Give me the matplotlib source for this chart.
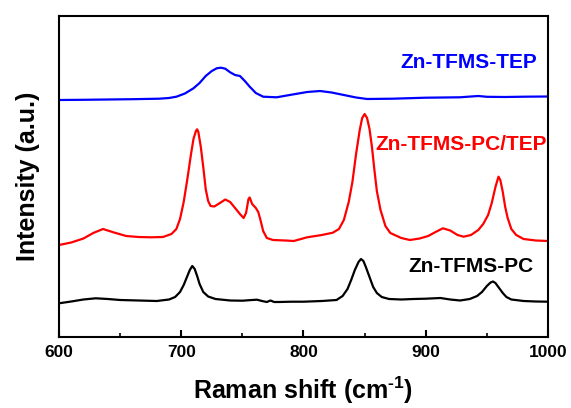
import matplotlib
matplotlib.use("Agg")
import matplotlib.pyplot as plt
from matplotlib.ticker import MultipleLocator

plt.rcParams["font.family"] = ["Liberation Sans", "DejaVu Sans"]
plt.rcParams["font.weight"] = "bold"
plt.rcParams["mathtext.fontset"] = "custom"
plt.rcParams["mathtext.rm"] = "Liberation Sans:bold"
plt.rcParams["mathtext.bf"] = "Liberation Sans:bold"

# Zn-TFMS-PC (bottom trace)
pc_shift = [600, 610, 620, 630, 640, 650, 665, 680, 690, 695, 699, 702, 705, 707,
            709, 711, 713, 715, 718, 722, 728, 740, 750, 758, 762, 766, 770, 773,
            776, 780, 790, 800, 815, 827, 832, 836, 839, 842, 845, 847, 849, 851,
            854, 857, 860, 864, 870, 880, 890, 900, 912, 920, 928, 936, 942, 946,
            950, 953, 955, 957, 960, 963, 966, 970, 980, 990, 1000]
pc_int = [33.7, 35.5, 37.5, 38.7, 38.0, 37.0, 36.5, 36.0, 37.5, 40.0, 45.0, 52.0,
          61.0, 67.0, 71.0, 68.0, 61.0, 53.0, 45.0, 40.5, 38.0, 36.5, 36.3, 37.0,
          37.3, 36.0, 35.0, 36.5, 35.0, 35.0, 35.3, 35.3, 36.0, 37.0, 41.0, 48.0,
          57.0, 67.0, 75.0, 78.0, 76.0, 70.0, 60.0, 50.0, 44.0, 40.0, 38.0, 37.5,
          38.0, 38.3, 39.0, 37.5, 36.5, 38.0, 41.0, 45.0, 51.0, 54.5, 55.5, 54.0,
          49.0, 44.0, 40.0, 37.5, 36.0, 35.5, 35.3]

# Zn-TFMS-PC/TEP (middle trace)
mix_shift = [600, 610, 620, 628, 636, 645, 655, 665, 675, 685, 692, 696, 699, 702,
             705, 708, 710, 712, 713, 714, 716, 718, 720, 722, 724, 727, 731, 736,
             740, 744, 748, 751, 753, 755, 756, 758, 761, 763, 765, 767, 770, 775,
             785, 792, 803, 815, 824, 829, 833, 837, 840, 843, 846, 848, 850, 852,
             854, 856, 858, 860, 863, 867, 871, 880, 887, 895, 902, 908, 914, 920,
             926, 931, 937, 943, 947, 951, 954, 957, 959.5, 961, 963, 965, 967, 970,
             974, 980, 990, 1000]
mix_int = [92.0, 94.5, 98.5, 104.0, 108.0, 104.5, 101.0, 100.0, 99.7, 100.0, 103.0,
           108.0, 118.0, 135.0, 158.0, 183.0, 198.0, 206.0, 207.7, 205.0, 190.0,
           170.0, 148.0, 136.0, 131.0, 130.5, 133.5, 137.5, 135.0, 129.0, 123.0,
           119.0, 124.0, 138.0, 139.5, 133.0, 129.0, 125.0, 116.0, 106.0, 99.0,
           97.0, 96.5, 96.0, 99.7, 102.0, 104.3, 108.0, 117.0, 135.0, 155.0, 183.0,
           207.0, 219.0, 223.0, 219.0, 208.0, 190.0, 167.0, 146.0, 127.0, 111.0,
           104.0, 99.0, 97.0, 98.5, 101.0, 105.0, 108.7, 106.5, 102.0, 100.3, 102.0,
           107.0, 113.0, 122.0, 134.0, 150.0, 160.3, 157.0, 145.0, 130.0, 119.0,
           108.0, 102.0, 98.0, 96.5, 96.0]

# Zn-TFMS-TEP (top trace)
tep_shift = [600, 620, 640, 660, 682, 690, 696, 703, 710, 715, 720, 725, 729, 732.5,
             736, 740, 744, 748, 752, 756, 761, 767, 778, 792, 803, 813.5, 823, 833,
             843, 852, 873, 900, 928, 937, 943, 950, 965, 980, 1000]
tep_int = [237.0, 237.2, 237.5, 237.8, 238.3, 239.0, 240.3, 243.5, 248.7, 254.0,
           261.0, 266.0, 268.7, 269.3, 268.3, 264.7, 262.0, 261.0, 256.0, 250.3,
           244.0, 240.3, 239.7, 242.7, 245.0, 246.0, 244.5, 242.0, 239.5, 238.0,
           238.3, 239.3, 239.7, 240.5, 241.0, 240.2, 240.0, 240.3, 240.5]

series = [
    (pc_shift, pc_int, "#000000", "Zn-TFMS-PC", 988, 70),
    (mix_shift, mix_int, "#ff0000", "Zn-TFMS-PC/TEP", 999, 192),
    (tep_shift, tep_int, "#0000ff", "Zn-TFMS-TEP", 991, 274),
]

fig = plt.figure(figsize=(5.71, 4.08), dpi=100)
ax = fig.add_axes([59 / 571, 1 - 337 / 408, 489 / 571, 321 / 408])

for x, y, color, name, lx, ly in series:
    ax.plot(x, y, color=color, linewidth=1.6)
    ax.text(lx, ly, name, color=color, fontsize=15, fontweight="bold",
            ha="right", va="center")

ax.set_xlim(600, 1000)
ax.set_ylim(0, 321)
ax.xaxis.set_major_locator(MultipleLocator(100))
ax.xaxis.set_minor_locator(MultipleLocator(50))
ax.tick_params(axis="x", which="major", direction="in", length=5, width=1.5,
               labelsize=12.5, pad=6)
ax.tick_params(axis="x", which="minor", direction="in", length=3, width=1.2)
ax.set_yticks([])
for label in ax.get_xticklabels():
    label.set_fontweight("bold")
for spine in ax.spines.values():
    spine.set_linewidth(1.5)

ax.set_xlabel(r"Raman shift (cm$^{\text{-1}}$)", fontsize=18, fontweight="bold",
              labelpad=10)
ax.set_ylabel("Intensity (a.u.)", fontsize=18, fontweight="bold", labelpad=14)

fig.savefig("out.png", dpi=100)
